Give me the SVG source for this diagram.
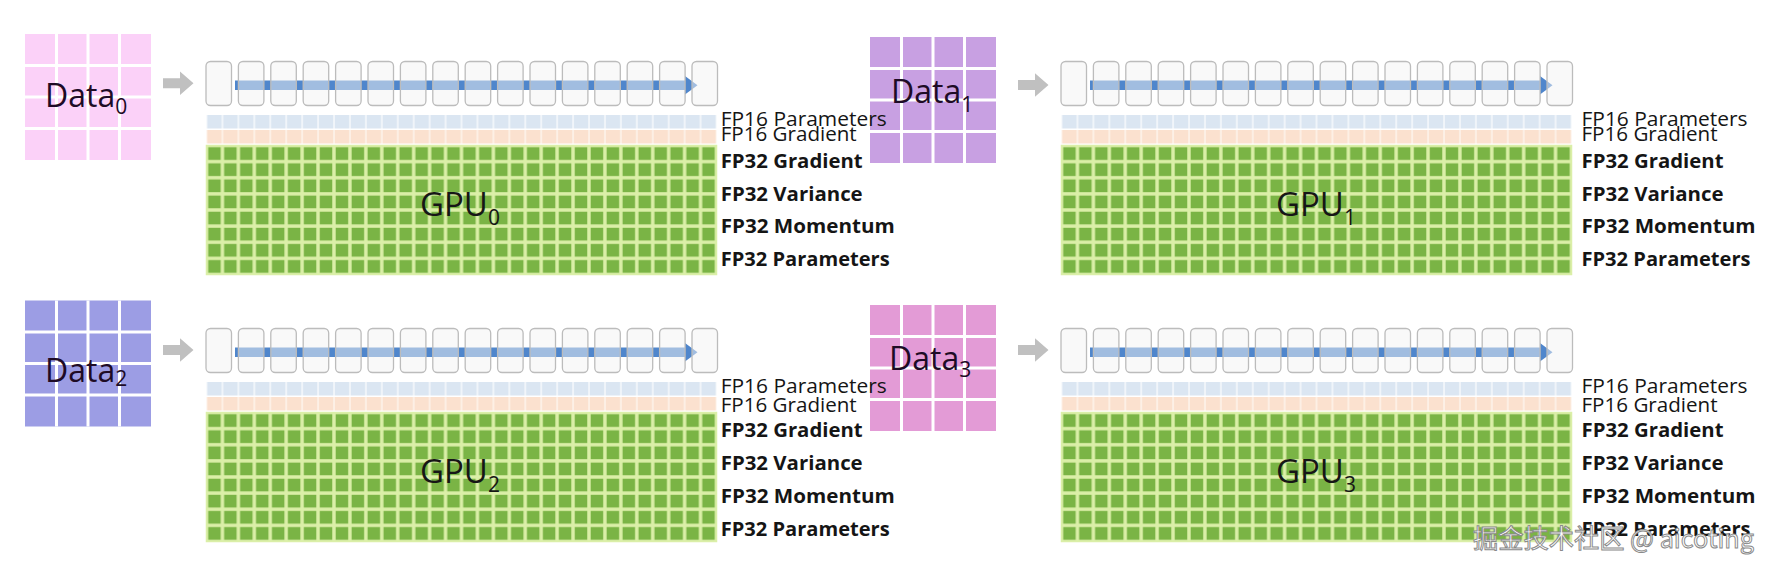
<svg xmlns="http://www.w3.org/2000/svg" xmlns:xlink="http://www.w3.org/1999/xlink" width="1771" height="572" viewBox="0 0 1771 572">
<style>
.box{fill:#f4f4f4;fill-opacity:0.5;stroke:#bcbcbc;stroke-width:1.3}
.bar{fill:#4f86cc}
.lbl{font-family:"Open Sans","Noto Sans",sans-serif;font-size:20px;fill:#151515}
.b{font-weight:bold}
.dt{font-family:"Open Sans","Noto Sans",sans-serif;font-size:32px;fill:#1e0b26}
.sub{font-size:21px}
.gt{font-family:"Open Sans","Noto Sans",sans-serif;font-size:33px;fill:#161616}
.garrow{fill:#c0c0c0}
.wm{font-family:"Noto Sans CJK SC","Noto Sans",sans-serif;font-size:26px;fill:#ffffff;stroke:#8a8a8a;stroke-width:1}
</style>
<defs>
<pattern id="pg" patternUnits="userSpaceOnUse" x="0.5" y="145.5" width="15.9375" height="16.125">
<rect width="15.9375" height="16.125" fill="#dbefa8"/>
<rect x="1.7" y="1.7" width="12.5" height="12.7" fill="#7ab445"/>
</pattern>
<pattern id="pb" patternUnits="userSpaceOnUse" x="0.5" y="115" width="15.9375" height="13.5">
<rect width="15.9375" height="13.5" fill="#f1f5fa"/>
<rect x="1" y="0" width="14" height="13.5" fill="#dbe6f2"/>
</pattern>
<pattern id="po" patternUnits="userSpaceOnUse" x="0.5" y="130" width="15.9375" height="13.5">
<rect width="15.9375" height="13.5" fill="#fdf0e6"/>
<rect x="1" y="0" width="14" height="13.5" fill="#fbe1cf"/>
</pattern>
<path id="dgrid" d="M31.5 0V126M63 0V126M94.5 0V126M0 31.5H126M0 63H126M0 94.5H126" stroke="#ffffff" stroke-width="3" fill="none"/>
<g id="gpublock">
<rect class="bar" x="29" y="80.5" width="452" height="9.5"/>
<polygon class="bar" points="479,76 491.5,85.2 479,94.5"/>
<rect class="box" x="0" y="61.5" width="25.5" height="44" rx="4.5"/>
<rect class="box" x="32.4" y="61.5" width="25.5" height="44" rx="4.5"/>
<rect class="box" x="64.8" y="61.5" width="25.5" height="44" rx="4.5"/>
<rect class="box" x="97.2" y="61.5" width="25.5" height="44" rx="4.5"/>
<rect class="box" x="129.6" y="61.5" width="25.5" height="44" rx="4.5"/>
<rect class="box" x="162" y="61.5" width="25.5" height="44" rx="4.5"/>
<rect class="box" x="194.4" y="61.5" width="25.5" height="44" rx="4.5"/>
<rect class="box" x="226.8" y="61.5" width="25.5" height="44" rx="4.5"/>
<rect class="box" x="259.2" y="61.5" width="25.5" height="44" rx="4.5"/>
<rect class="box" x="291.6" y="61.5" width="25.5" height="44" rx="4.5"/>
<rect class="box" x="324" y="61.5" width="25.5" height="44" rx="4.5"/>
<rect class="box" x="356.4" y="61.5" width="25.5" height="44" rx="4.5"/>
<rect class="box" x="388.8" y="61.5" width="25.5" height="44" rx="4.5"/>
<rect class="box" x="421.2" y="61.5" width="25.5" height="44" rx="4.5"/>
<rect class="box" x="453.6" y="61.5" width="25.5" height="44" rx="4.5"/>
<rect class="box" x="486" y="61.5" width="25.5" height="44" rx="4.5"/>
<rect x="0.5" y="115" width="510" height="13.5" fill="url(#pb)"/>
<rect x="0.5" y="130" width="510" height="13.5" fill="url(#po)"/>
<rect x="0.5" y="145.5" width="510" height="129" fill="url(#pg)" stroke="#dbefa8" stroke-width="1.5"/>
</g>
</defs>
<rect width="1771" height="572" fill="#ffffff"/>

<g id="data0">
<rect x="25" y="34" width="126" height="126" fill="#fbd1f8"/>
<use xlink:href="#dgrid" href="#dgrid" transform="translate(25,34)"/>
<text class="dt" x="45" y="107">Data<tspan class="sub" dy="7">0</tspan></text>
</g>

<g id="data1">
<rect x="870" y="37" width="126" height="126" fill="#c8a0e2"/>
<use xlink:href="#dgrid" href="#dgrid" transform="translate(870,37)"/>
<text class="dt" x="891" y="103">Data<tspan class="sub" dy="9">1</tspan></text>
</g>

<g id="data2">
<rect x="25" y="300.5" width="126" height="126" fill="#9c9de4"/>
<use xlink:href="#dgrid" href="#dgrid" transform="translate(25,300.5)"/>
<text class="dt" x="45" y="382">Data<tspan class="sub" dy="4">2</tspan></text>
</g>

<g id="data3">
<rect x="870" y="305" width="126" height="126" fill="#e39bd6"/>
<use xlink:href="#dgrid" href="#dgrid" transform="translate(870,305)"/>
<text class="dt" x="889" y="370">Data<tspan class="sub" dy="7">3</tspan></text>
</g>

<g id="connectors">
<polygon class="garrow" points="163,78.3 180,78.3 180,71.5 193.5,83.3 180,95 180,88.3 163,88.3"/>
<polygon class="garrow" points="1018,80 1035,80 1035,73.2 1048.5,85 1035,96.7 1035,90 1018,90"/>
<polygon class="garrow" points="163,345 180,345 180,338.2 193.5,350 180,361.7 180,355 163,355"/>
<polygon class="garrow" points="1018,345 1035,345 1035,338.2 1048.5,350 1035,361.7 1035,355 1018,355"/>
</g>

<g id="gpu0">
<use xlink:href="#gpublock" href="#gpublock" transform="translate(206,0)"/>
<text class="gt" x="420" y="216">GPU<tspan class="sub" dy="9">0</tspan></text>
<text class="lbl" x="720.7" y="125.5" textLength="166" lengthAdjust="spacingAndGlyphs">FP16 Parameters</text>
<text class="lbl" x="720.7" y="141" textLength="136" lengthAdjust="spacingAndGlyphs">FP16 Gradient</text>
<text class="lbl b" x="720.7" y="167.5" textLength="142" lengthAdjust="spacingAndGlyphs">FP32 Gradient</text>
<text class="lbl b" x="720.7" y="200.5" textLength="142" lengthAdjust="spacingAndGlyphs">FP32 Variance</text>
<text class="lbl b" x="720.7" y="233.3" textLength="174" lengthAdjust="spacingAndGlyphs">FP32 Momentum</text>
<text class="lbl b" x="720.7" y="266" textLength="169" lengthAdjust="spacingAndGlyphs">FP32 Parameters</text>
</g>

<g id="gpu1">
<use xlink:href="#gpublock" href="#gpublock" transform="translate(1061,0)"/>
<text class="gt" x="1276" y="216">GPU<tspan class="sub" dy="9">1</tspan></text>
<text class="lbl" x="1581.5" y="125.5" textLength="166" lengthAdjust="spacingAndGlyphs">FP16 Parameters</text>
<text class="lbl" x="1581.5" y="141" textLength="136" lengthAdjust="spacingAndGlyphs">FP16 Gradient</text>
<text class="lbl b" x="1581.5" y="167.5" textLength="142" lengthAdjust="spacingAndGlyphs">FP32 Gradient</text>
<text class="lbl b" x="1581.5" y="200.5" textLength="142" lengthAdjust="spacingAndGlyphs">FP32 Variance</text>
<text class="lbl b" x="1581.5" y="233.3" textLength="174" lengthAdjust="spacingAndGlyphs">FP32 Momentum</text>
<text class="lbl b" x="1581.5" y="266" textLength="169" lengthAdjust="spacingAndGlyphs">FP32 Parameters</text>
</g>

<g id="gpu2">
<use xlink:href="#gpublock" href="#gpublock" transform="translate(206,267)"/>
<text class="gt" x="420" y="483">GPU<tspan class="sub" dy="9">2</tspan></text>
<text class="lbl" x="720.7" y="393.3" textLength="166" lengthAdjust="spacingAndGlyphs">FP16 Parameters</text>
<text class="lbl" x="720.7" y="411.5" textLength="136" lengthAdjust="spacingAndGlyphs">FP16 Gradient</text>
<text class="lbl b" x="720.7" y="437" textLength="142" lengthAdjust="spacingAndGlyphs">FP32 Gradient</text>
<text class="lbl b" x="720.7" y="470" textLength="142" lengthAdjust="spacingAndGlyphs">FP32 Variance</text>
<text class="lbl b" x="720.7" y="503" textLength="174" lengthAdjust="spacingAndGlyphs">FP32 Momentum</text>
<text class="lbl b" x="720.7" y="536" textLength="169" lengthAdjust="spacingAndGlyphs">FP32 Parameters</text>
</g>

<g id="gpu3">
<use xlink:href="#gpublock" href="#gpublock" transform="translate(1061,267)"/>
<text class="gt" x="1276" y="483">GPU<tspan class="sub" dy="9">3</tspan></text>
<text class="lbl" x="1581.5" y="393.3" textLength="166" lengthAdjust="spacingAndGlyphs">FP16 Parameters</text>
<text class="lbl" x="1581.5" y="411.5" textLength="136" lengthAdjust="spacingAndGlyphs">FP16 Gradient</text>
<text class="lbl b" x="1581.5" y="437" textLength="142" lengthAdjust="spacingAndGlyphs">FP32 Gradient</text>
<text class="lbl b" x="1581.5" y="470" textLength="142" lengthAdjust="spacingAndGlyphs">FP32 Variance</text>
<text class="lbl b" x="1581.5" y="503" textLength="174" lengthAdjust="spacingAndGlyphs">FP32 Momentum</text>
<text class="lbl b" x="1581.5" y="536" textLength="169" lengthAdjust="spacingAndGlyphs">FP32 Parameters</text>
</g>

<text class="wm" x="1473" y="548" textLength="281" lengthAdjust="spacingAndGlyphs">掘金技术社区 @ aicoting</text>
</svg>
